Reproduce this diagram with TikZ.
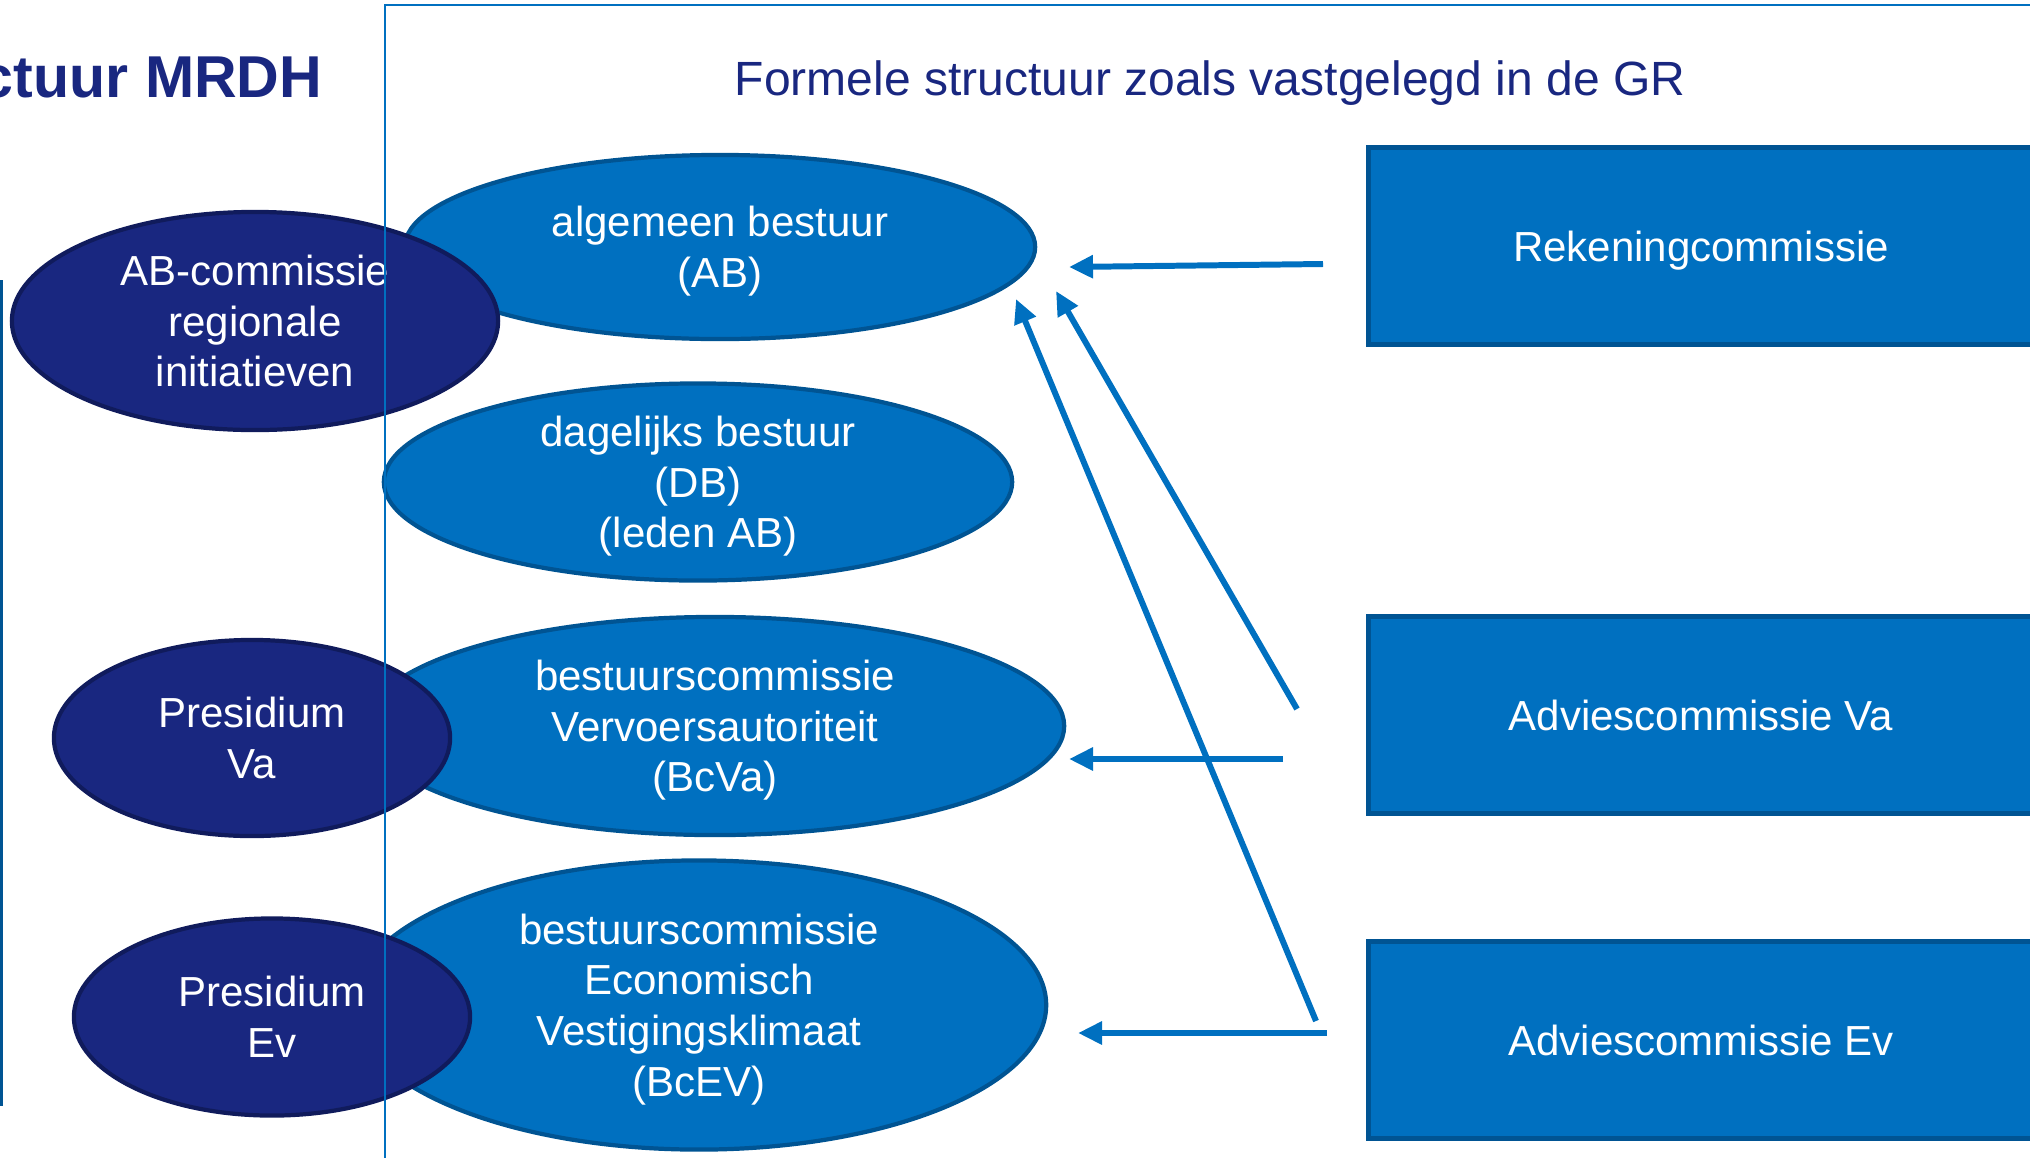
\documentclass[tikz,border=0pt]{standalone}
\usepackage{fontspec}
\setmainfont{Liberation Sans}
\usetikzlibrary{shapes.geometric,arrows.meta}

\definecolor{mrdhblue}{RGB}{0,112,192}
\definecolor{mrdhedge}{RGB}{0,84,147}
\definecolor{mrdhnavy}{RGB}{25,39,128}
\definecolor{mrdhnavyedge}{RGB}{16,27,92}

\begin{document}
\begin{tikzpicture}[x=0.01cm,y=-0.01cm,
    bodylight/.style={ellipse, fill=mrdhblue, draw=mrdhedge, line width=1.2pt,
      text=white, align=center, inner sep=0pt, text depth=0pt,
      font=\fontsize{11.95}{14.4}\selectfont},
    bodydark/.style={bodylight, fill=mrdhnavy, draw=mrdhnavyedge},
    cmbox/.style={rectangle, fill=mrdhblue, draw=mrdhedge, line width=1.3pt,
      text=white, inner sep=0pt, text depth=0pt,
      minimum width=6.65cm, minimum height=1.97cm,
      font=\fontsize{11.95}{14.4}\selectfont},
    advarrow/.style={draw=mrdhblue, line width=1.7pt,
      -{Triangle[length=0.24cm,width=0.22cm]}}]
    \useasboundingbox (0,0) rectangle (2030,1157);

    % Titles
    \node[anchor=base east, inner sep=0pt, text=mrdhnavy,
      font=\fontsize{16.8}{20}\selectfont\bfseries]
      (maintitle) at (323,97) {ctuur MRDH};
    \node[anchor=base, text=mrdhnavy, font=\fontsize{13.66}{16}\selectfont]
      (formtitle) at (1210,95) {Formele structuur zoals vastgelegd in de GR};

    % Formal bodies
    \node[bodylight, minimum width=6.30cm, minimum height=1.84cm] (ab) at (720,247)
      {algemeen bestuur\\(AB)};
    \node[bodylight, minimum width=6.28cm, minimum height=1.97cm] (db) at (698,482)
      {dagelijks bestuur\\(DB)\\(leden AB)};
    \node[bodylight, minimum width=6.98cm, minimum height=2.18cm] (bcva) at (715,726)
      {bestuurscommissie\\Vervoersautoriteit\\(BcVa)};
    \node[bodylight, minimum width=6.94cm, minimum height=2.89cm] (bcev) at (699,1005)
      {bestuurscommissie\\Economisch\\Vestigingsklimaat\\(BcEV)};

    % Informal bodies
    \node[bodydark, minimum width=4.86cm, minimum height=2.18cm] (abcie) at (255,321)
      {AB-commissie\\regionale\\initiatieven};
    \node[bodydark, minimum width=3.96cm, minimum height=1.96cm] (presva) at (252,738)
      {Presidium\\Va};
    \node[bodydark, minimum width=3.96cm, minimum height=1.97cm] (presev) at (272,1017)
      {Presidium\\Ev};

    % Committees
    \node[cmbox] (rek) at (1701,246) {Rekeningcommissie};
    \node[cmbox] (advva) at (1701,715) {Adviescommissie Va};
    \node[cmbox] (advev) at (1701,1040) {Adviescommissie Ev};

    % Advice lines
    \coordinate (rek-out) at (1323,264);
    \coordinate (ab-in) at (1069,267);
    \coordinate (va-out1) at (1297,709);
    \coordinate (ab-inva) at (1056,291);
    \coordinate (ev-out1) at (1316,1021);
    \coordinate (ab-inev) at (1016,299);
    \coordinate (va-out2) at (1283,759);
    \coordinate (bcva-in) at (1069,759);
    \coordinate (ev-out2) at (1327,1033);
    \coordinate (bcev-in) at (1078,1033);
    \draw[advarrow] (rek-out) -- (ab-in);
    \draw[advarrow] (va-out1) -- (ab-inva);
    \draw[advarrow] (ev-out1) -- (ab-inev);
    \draw[advarrow] (va-out2) -- (bcva-in);
    \draw[advarrow] (ev-out2) -- (bcev-in);

    % Frame lines
    \draw[mrdhedge, line width=0.9pt] (1,280) -- (1,1106);
    \draw[mrdhblue, line width=0.6pt] (2040,5) -- (385,5) -- (385,1165);
\end{tikzpicture}
\end{document}
